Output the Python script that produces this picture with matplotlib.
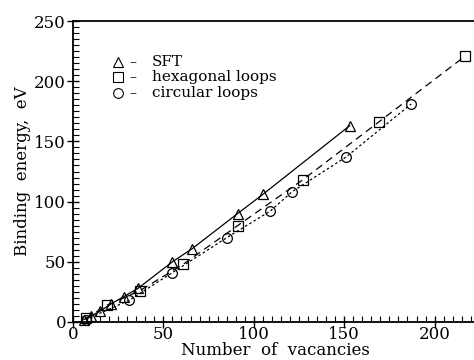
import matplotlib.pyplot as plt
from matplotlib.ticker import MultipleLocator

# vacancy counts and binding energies (eV)
sft_n = [6, 10, 15, 21, 28, 36, 55, 66, 91, 105, 153]
sft_e = [2, 5, 9, 15, 21, 28, 50, 61, 90, 106, 163]

hex_n = [7, 19, 37, 61, 91, 127, 169, 217]
hex_e = [3, 14, 26, 48, 80, 118, 166, 221]

circ_n = [7, 31, 55, 85, 109, 121, 151, 187]
circ_e = [2, 18, 41, 70, 92, 108, 137, 181]

legend_marks = ['^', 's', 'o']
legend_names = ['SFT', 'hexagonal loops', 'circular loops']

plt.rcParams['font.family'] = 'DejaVu Serif'

fig = plt.figure(figsize=(4.74, 3.6), dpi=100)
ax = fig.add_axes([73 / 474, 38 / 360, 405 / 474, 301 / 360])

mk = dict(markersize=7, markerfacecolor='none', markeredgecolor='black',
          markeredgewidth=0.9, color='black', clip_on=False)
ax.plot(sft_n, sft_e, '-', marker='^', lw=0.9, **mk)
ax.plot(hex_n, hex_e, marker='s', lw=0.9, dashes=(6, 4), **mk)
ax.plot(circ_n, circ_e, marker='o', lw=0.9, dashes=(2, 2), **mk)

ax.set_xlim(0, 224)
ax.set_ylim(0, 250)
ax.xaxis.set_major_locator(MultipleLocator(50))
ax.xaxis.set_minor_locator(MultipleLocator(5))
ax.yaxis.set_major_locator(MultipleLocator(50))
ax.yaxis.set_minor_locator(MultipleLocator(5))
ax.tick_params(which='major', direction='inout', length=8, width=1, labelsize=12,
               top=False, right=False)
ax.tick_params(which='minor', direction='in', length=4, width=0.8,
               top=False, right=False)
ax.tick_params(axis='x', pad=-1)
ax.tick_params(axis='y', pad=1)
for s in ['left', 'bottom', 'top']:
    ax.spines[s].set_linewidth(1.3)
ax.spines['right'].set_visible(False)

ax.set_xlabel('Number  of  vacancies', fontsize=12)
ax.xaxis.set_label_coords(0.5, -0.068)
ax.set_ylabel('Binding  energy,  eV', fontsize=12, labelpad=2)

# legend drawn as symbol, dash, name
for i, (m, name) in enumerate(zip(legend_marks, legend_names)):
    yy = 0.865 - i * 0.052
    ax.plot([0.112], [yy], marker=m, markersize=7, markerfacecolor='none',
            markeredgecolor='black', markeredgewidth=0.8, transform=ax.transAxes)
    ax.text(0.14, yy, '–', transform=ax.transAxes, fontsize=10, va='center')
    ax.text(0.195, yy, name, transform=ax.transAxes, fontsize=11, va='center')

fig.savefig('out.png', dpi=100)
